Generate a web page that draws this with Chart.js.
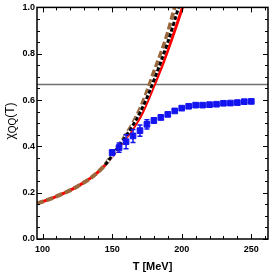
<!DOCTYPE html>
<html>
<head>
<meta charset="utf-8">
<script src="https://cdn.jsdelivr.net/npm/chart.js@4.4.1/dist/chart.umd.min.js"></script>
<style>
  html, body { margin: 0; padding: 0; background: #fff; overflow: hidden; }
  canvas { display: block; }
</style>
</head>
<body>
<canvas id="chi" width="273" height="276"></canvas>
<script>
// chi_QQ(T) vs temperature
const redT   = [96, 100, 105, 110, 115, 120, 125, 130, 135, 140, 145, 150, 155, 160, 165, 170, 175, 180, 185, 190, 195, 200, 205];
const redChi = [0.153, 0.161, 0.172, 0.184, 0.197, 0.211, 0.227, 0.245, 0.265, 0.29, 0.32, 0.357, 0.398, 0.437, 0.478, 0.525, 0.59, 0.662, 0.735, 0.815, 0.9, 0.99, 1.08];

const brownT   = [96, 100, 105, 110, 115, 120, 125, 130, 135, 140, 145, 150, 155, 160, 165, 170, 175, 180, 185, 190, 195, 200];
const brownChi = [0.153, 0.161, 0.172, 0.184, 0.197, 0.211, 0.227, 0.245, 0.265, 0.29, 0.321, 0.362, 0.405, 0.45, 0.5, 0.56, 0.635, 0.72, 0.8, 0.89, 1.0, 1.1];

const blackT   = [145, 150, 155, 160, 165, 170, 175, 180, 185, 190, 195, 200];
const blackChi = [0.32, 0.36, 0.402, 0.445, 0.492, 0.545, 0.61, 0.685, 0.765, 0.85, 0.945, 1.05];

const latT   = [150, 155, 160, 165, 170, 175, 180, 185, 190, 195, 200, 205, 210, 215, 220, 225, 230, 235, 240, 245, 250];
const latChi = [0.373, 0.395, 0.42, 0.445, 0.468, 0.495, 0.512, 0.525, 0.538, 0.553, 0.565, 0.573, 0.578, 0.578, 0.58, 0.582, 0.586, 0.587, 0.589, 0.593, 0.594];
const latErr = [0.012, 0.02, 0.03, 0.028, 0.024, 0.02, 0.012, 0.01, 0.007, 0.006, 0.005, 0.005, 0.004, 0.004, 0.004, 0.004, 0.004, 0.004, 0.004, 0.004, 0.004];

const refLevel = 2 / 3;

const xRange = [96, 262];
const yRange = [0, 1];
const xMajorTicks = [100, 150, 200, 250];
const xMinorTicks = [110, 120, 130, 140, 160, 170, 180, 190, 210, 220, 230, 240, 260];
const yMajorTicks = [0, 0.2, 0.4, 0.6, 0.8, 1.0];
const yMinorTicks = [0.05, 0.1, 0.15, 0.25, 0.3, 0.35, 0.45, 0.5, 0.55, 0.65, 0.7, 0.75, 0.85, 0.9, 0.95];

const RED = '#ff0000';
const BROWN = '#9a683c';
const BLUE = '#1414f0';
const FONT = '"Liberation Sans", Arial, sans-serif';

function pts(xs, ys) {
    return xs.map((x, i) => ({ x: x, y: ys[i] }));
}

function isMajor(list, v) {
    return list.some(m => Math.abs(m - v) < 1e-6);
}

// inward ticks on all four sides + frame
const frameTicks = {
    id: 'frameTicks',
    afterDatasetsDraw(chart) {
        const { ctx, chartArea: a, scales } = chart;
        const xs = scales.x, ys = scales.y;
        ctx.save();
        ctx.strokeStyle = '#000';
        ctx.lineWidth = 1;
        ctx.beginPath();
        xMajorTicks.concat(xMinorTicks).forEach(v => {
            const px = Math.round(xs.getPixelForValue(v)) + 0.5;
            const len = isMajor(xMajorTicks, v) ? 5 : 3;
            ctx.moveTo(px, a.bottom); ctx.lineTo(px, a.bottom - len);
            ctx.moveTo(px, a.top); ctx.lineTo(px, a.top + len);
        });
        yMajorTicks.concat(yMinorTicks).forEach(v => {
            const py = Math.round(ys.getPixelForValue(v)) + 0.5;
            const len = isMajor(yMajorTicks, v) ? 5 : 3;
            ctx.moveTo(a.left, py); ctx.lineTo(a.left + len, py);
            ctx.moveTo(a.right, py); ctx.lineTo(a.right - len, py);
        });
        ctx.stroke();
        ctx.lineWidth = 1.5;
        ctx.strokeRect(a.left, a.top, a.right - a.left, a.bottom - a.top);
        ctx.restore();
    }
};

// vertical error bars for the lattice points
const errorBars = {
    id: 'errorBars',
    afterDatasetsDraw(chart) {
        const { ctx, scales } = chart;
        ctx.save();
        ctx.strokeStyle = BLUE;
        ctx.lineWidth = 1.5;
        ctx.beginPath();
        latT.forEach((t, i) => {
            const px = scales.x.getPixelForValue(t);
            const y1 = scales.y.getPixelForValue(latChi[i] + latErr[i]);
            const y2 = scales.y.getPixelForValue(latChi[i] - latErr[i]);
            ctx.moveTo(px, y1); ctx.lineTo(px, y2);
            ctx.moveTo(px - 2.5, y1); ctx.lineTo(px + 2.5, y1);
            ctx.moveTo(px - 2.5, y2); ctx.lineTo(px + 2.5, y2);
        });
        ctx.stroke();
        ctx.restore();
    }
};

// y label with subscript
const yLabel = {
    id: 'yLabel',
    afterDraw(chart) {
        const { ctx } = chart;
        ctx.save();
        ctx.translate(11, 121);
        ctx.rotate(-Math.PI / 2);
        ctx.fillStyle = '#000';
        ctx.textBaseline = 'middle';
        const big = '12px ' + FONT, small = '10px ' + FONT;
        ctx.font = big;
        const w1 = ctx.measureText('\u03c7').width;
        const w3 = ctx.measureText('(T)').width;
        ctx.font = small;
        const w2 = ctx.measureText('QQ').width;
        let x = -(w1 + w2 + w3) / 2;
        ctx.font = big;
        ctx.fillText('\u03c7', x, 0); x += w1;
        ctx.font = small;
        ctx.fillText('QQ', x, 2); x += w2;
        ctx.font = big;
        ctx.fillText('(T)', x, 0);
        ctx.restore();
    }
};

new Chart(document.getElementById('chi'), {
    type: 'scatter',
    data: {
        datasets: [
            {
                label: 'lattice',
                data: pts(latT, latChi),
                backgroundColor: BLUE,
                borderColor: BLUE,
                borderWidth: 1,
                pointStyle: 'rect',
                pointRadius: 4,
                order: 0,
            },
            {
                label: 'black dashed',
                data: pts(blackT, blackChi),
                showLine: true,
                borderColor: '#000',
                borderWidth: 3,
                borderDash: [4, 2],
                pointRadius: 0,
                cubicInterpolationMode: 'monotone',
                order: 1,
            },
            {
                label: 'black underlay',
                data: pts(blackT, blackChi),
                showLine: true,
                borderColor: '#ffffff',
                borderWidth: 3,
                pointRadius: 0,
                cubicInterpolationMode: 'monotone',
                order: 2,
            },
            {
                label: 'brown',
                data: pts(brownT, brownChi),
                showLine: true,
                borderColor: BROWN,
                borderWidth: 4,
                borderDash: [7, 3],
                pointRadius: 0,
                cubicInterpolationMode: 'monotone',
                order: 3,
            },
            {
                label: 'red',
                data: pts(redT, redChi),
                showLine: true,
                borderColor: RED,
                borderWidth: 3,
                pointRadius: 0,
                cubicInterpolationMode: 'monotone',
                order: 4,
            },
            {
                label: 'level',
                data: pts(xRange, [refLevel, refLevel]),
                showLine: true,
                borderColor: '#707070',
                borderWidth: 1.5,
                pointRadius: 0,
                order: 5,
            },
        ],
    },
    options: {
        responsive: false,
        animation: false,
        events: [],
        layout: { padding: { top: 5, right: 2, left: 0, bottom: 0 } },
        plugins: {
            legend: { display: false },
            tooltip: { enabled: false },
        },
        scales: {
            x: {
                type: 'linear',
                min: xRange[0],
                max: xRange[1],
                border: { display: false },
                grid: { display: false, drawTicks: false },
                afterBuildTicks: s => { s.ticks = xMajorTicks.concat(xMinorTicks).sort((a, b) => a - b).map(v => ({ value: v })); },
                afterFit: s => { s.height = 37; },
                ticks: {
                    autoSkip: false,
                    maxRotation: 0,
                    padding: 5,
                    color: '#000',
                    font: { family: FONT, size: 9, weight: 'bold' },
                    callback: v => isMajor(xMajorTicks, v) ? String(v) : '',
                },
                title: {
                    display: true,
                    text: 'T [MeV]',
                    color: '#000',
                    font: { family: FONT, size: 11, weight: 'bold' },
                    padding: { top: 0, bottom: 2 },
                },
            },
            y: {
                type: 'linear',
                min: yRange[0],
                max: yRange[1],
                border: { display: false },
                grid: { display: false, drawTicks: false },
                afterBuildTicks: s => { s.ticks = yMajorTicks.concat(yMinorTicks).sort((a, b) => a - b).map(v => ({ value: v })); },
                afterFit: s => { s.width = 37; },
                ticks: {
                    autoSkip: false,
                    padding: 2,
                    color: '#000',
                    font: { family: FONT, size: 9, weight: 'bold' },
                    callback: v => isMajor(yMajorTicks, v) ? v.toFixed(1) : '',
                },
            },
        },
    },
    plugins: [errorBars, frameTicks, yLabel],
});
</script>
</body>
</html>
